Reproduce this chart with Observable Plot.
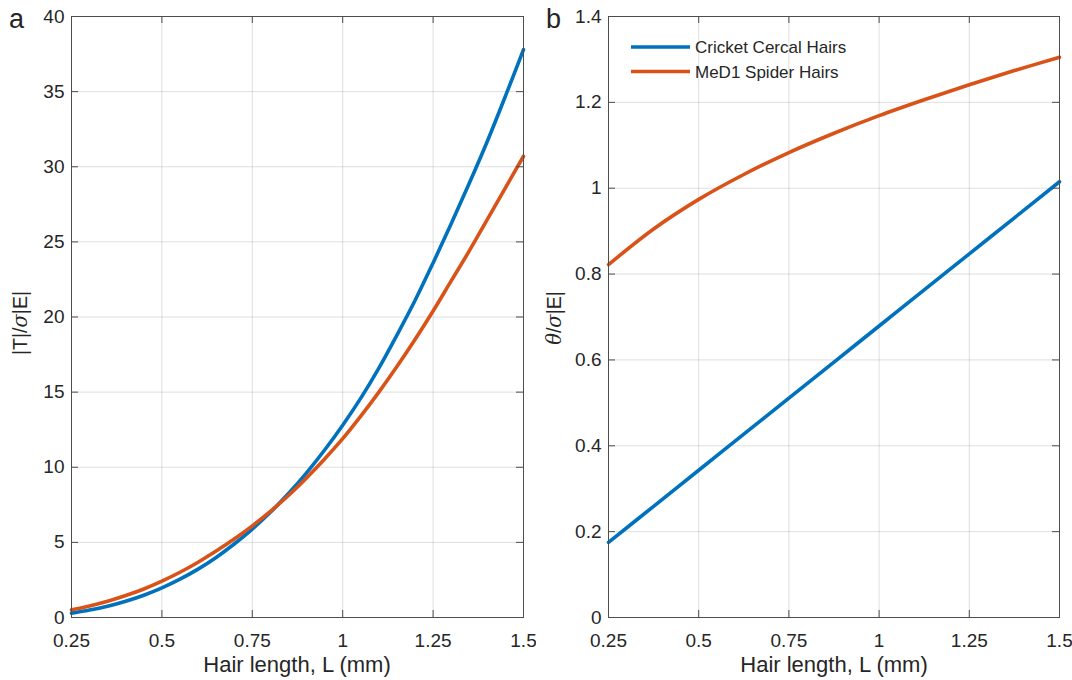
<!DOCTYPE html>
<html>
<head>
<meta charset="utf-8">
<script src="https://cdn.jsdelivr.net/npm/d3@7"></script>
<script src="https://cdn.jsdelivr.net/npm/@observablehq/plot@0.6"></script>
<style>
  body { margin: 0; background: #fff; }
  #fig { position: relative; width: 1072px; height: 680px; background: #fff;
         font-family: "Liberation Sans", Arial, Helvetica, sans-serif; }
  .panel { position: absolute; top: 0; }
  #overlay { position: absolute; left: 0; top: 0; pointer-events: none; }
</style>
</head>
<body>
<div id="fig">
  <div id="pa" class="panel" style="left:0px"></div>
  <div id="pb" class="panel" style="left:536px"></div>
</div>
<script>
// ---------------- data ----------------
const series = ["Cricket Cercal Hairs", "MeD1 Spider Hairs"];
const colors = ["#0072BD", "#D95319"];

// panel a: |T|/sigma|E| vs hair length
const lengthA = [0.25, 0.30, 0.35, 0.40, 0.45, 0.50, 0.55, 0.60, 0.65, 0.70, 0.75, 0.80, 0.85,
                 0.90, 0.95, 1.00, 1.05, 1.10, 1.15, 1.20, 1.25, 1.30, 1.35, 1.40, 1.45, 1.50];
const cricketTorque = [0.29, 0.50, 0.75, 1.08, 1.48, 1.97, 2.55, 3.22, 4.00, 4.89, 5.88, 7.00, 8.25,
                       9.63, 11.15, 12.8, 14.6, 16.6, 18.8, 21.1, 23.6, 26.2, 28.9, 31.7, 34.7, 37.8];
const spiderTorque  = [0.51, 0.77, 1.08, 1.46, 1.90, 2.42, 3.01, 3.68, 4.42, 5.22, 6.10, 7.06, 8.12,
                       9.29, 10.55, 11.9, 13.4, 15.0, 16.7, 18.5, 20.4, 22.4, 24.4, 26.5, 28.6, 30.7];

// panel b: theta/sigma|E| vs hair length
const lengthB = [0.25, 0.375, 0.5, 0.625, 0.75, 0.875, 1.0, 1.125, 1.25, 1.375, 1.5];
const cricketAngle = [0.175, 0.259, 0.343, 0.427, 0.511, 0.595, 0.679, 0.763, 0.847, 0.931, 1.015];
const spiderAngle  = [0.822, 0.905, 0.974, 1.032, 1.083, 1.128, 1.169, 1.206, 1.241, 1.274, 1.305];

// axes
const xDomain = [0.25, 1.5];
const xTicks = [0.25, 0.5, 0.75, 1, 1.25, 1.5];
const yDomainA = [0, 40];
const yTicksA = [0, 5, 10, 15, 20, 25, 30, 35, 40];
const yDomainB = [0, 1.4];
const yTicksB = [0, 0.2, 0.4, 0.6, 0.8, 1, 1.2, 1.4];
const xLabel = "Hair length, L (mm)";
const panelLetters = ["a", "b"];

// ---------------- build rows ----------------
function rowsFrom(xs, ys0, ys1) {
  const r = [];
  xs.forEach((L, i) => r.push({L, v: ys0[i], series: series[0]}));
  xs.forEach((L, i) => r.push({L, v: ys1[i], series: series[1]}));
  return r;
}
const rowsA = rowsFrom(lengthA, cricketTorque, spiderTorque);
const rowsB = rowsFrom(lengthB, cricketAngle, spiderAngle);

const FONT = "'Liberation Sans', Arial, Helvetica, sans-serif";
const AXC = "#4d4d4d";

function panel(rows, yDomain, yTicks, ml, mr) {
  const W = 536, H = 680, mt = 16, mb = 63;
  const pw = W - ml - mr, ph = H - mt - mb;
  return Plot.plot({
    width: W, height: H,
    marginTop: mt, marginBottom: mb, marginLeft: ml, marginRight: mr,
    x: {domain: xDomain},
    y: {domain: yDomain},
    color: {domain: series, range: colors},
    style: {background: "white", color: "#262626", fontFamily: FONT, fontSize: "19px", overflow: "visible"},
    marks: [
      Plot.gridX(xTicks, {stroke: "#000", strokeOpacity: 0.13}),
      Plot.gridY(yTicks, {stroke: "#000", strokeOpacity: 0.13}),
      Plot.line(rows, {x: "L", y: "v", z: "series", stroke: "series", strokeWidth: 3.6, curve: "catmull-rom"}),
      Plot.frame({stroke: AXC}),
      Plot.tickX(xTicks, {x: d => d, insetTop: ph - 7, stroke: AXC}),
      Plot.tickX(xTicks, {x: d => d, insetBottom: ph - 7, stroke: AXC}),
      Plot.tickY(yTicks, {y: d => d, insetRight: pw - 7, stroke: AXC}),
      Plot.tickY(yTicks, {y: d => d, insetLeft: pw - 7, stroke: AXC}),
      Plot.axisX(xTicks, {anchor: "bottom", tickSize: 0, tickPadding: 16, tickFormat: d => String(d), label: null, fontSize: 19}),
      Plot.axisY(yTicks, {anchor: "left", tickSize: 0, tickPadding: 7, tickFormat: d => String(d), label: null, fontSize: 19})
    ]
  });
}

document.getElementById("pa").appendChild(panel(rowsA, yDomainA, yTicksA, 71, 13));
document.getElementById("pb").appendChild(panel(rowsB, yDomainB, yTicksB, 72, 13));

// ---------------- overlay text: letters, axis labels, legend ----------------
const ov = d3.select("#fig").append("svg")
  .attr("id", "overlay").attr("width", 1072).attr("height", 680)
  .style("font-family", FONT).attr("fill", "#262626");

ov.append("text").attr("x", 9).attr("y", 28).attr("font-size", 27).text(panelLetters[0]);
ov.append("text").attr("x", 546).attr("y", 28).attr("font-size", 27).text(panelLetters[1]);

ov.append("text").attr("x", 297).attr("y", 672).attr("font-size", 22).attr("text-anchor", "middle").text(xLabel);
ov.append("text").attr("x", 834).attr("y", 672).attr("font-size", 22).attr("text-anchor", "middle").text(xLabel);

const ya = ov.append("text").attr("transform", "translate(27,323) rotate(-90)")
  .attr("font-size", 19.5).attr("text-anchor", "middle");
ya.append("tspan").text("|T|/");
ya.append("tspan").attr("font-style", "italic").attr("font-family", "'DejaVu Serif', serif").text("σ");
ya.append("tspan").text("|E|");

const yb = ov.append("text").attr("transform", "translate(561,318) rotate(-90)")
  .attr("font-size", 19.5).attr("text-anchor", "middle");
yb.append("tspan").attr("font-style", "italic").attr("font-family", "'DejaVu Serif', serif").text("θ");
yb.append("tspan").text("/");
yb.append("tspan").attr("font-style", "italic").attr("font-family", "'DejaVu Serif', serif").text("σ");
yb.append("tspan").text("|E|");

series.forEach((s, i) => {
  const y = 47 + i * 24.5;
  ov.append("line").attr("x1", 631).attr("x2", 690).attr("y1", y).attr("y2", y)
    .attr("stroke", colors[i]).attr("stroke-width", 3.6);
  ov.append("text").attr("x", 695).attr("y", y + 6).attr("font-size", 17).text(s);
});
</script>
</body>
</html>
